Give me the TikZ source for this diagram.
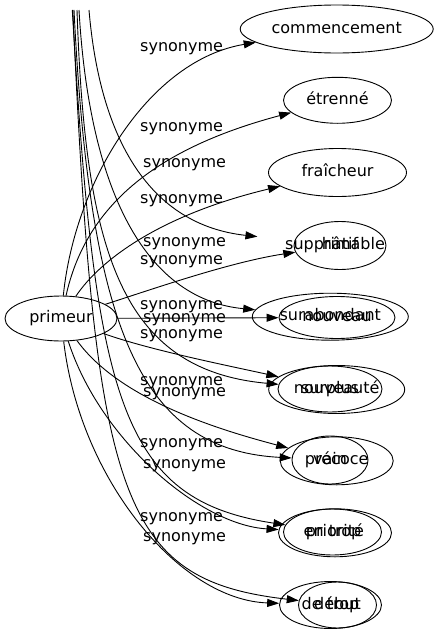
\documentclass[tikz,border=0pt]{standalone}
\usepackage{fontspec}
\setmainfont{DejaVu Sans}
\usetikzlibrary{shapes.geometric,arrows.meta}
\begin{document}
\begin{tikzpicture}[x=1pt,y=-1pt,
  word/.style={ellipse,draw,line width=0.9pt,inner sep=0pt,text height=11pt,text depth=3pt,font=\fontsize{16}{19}\selectfont},
  ghost/.style={ellipse,draw=none,inner sep=0pt,text height=11pt,text depth=3pt,font=\fontsize{16}{19}\selectfont},
  edge/.style={line width=0.9pt,-{Triangle[length=12pt,width=8pt]}},
  lab/.style={anchor=west,inner sep=0pt,text height=11pt,text depth=3pt,font=\fontsize{16}{19}\selectfont}]
\useasboundingbox (0,0) rectangle (439,635);
% nodes
\node[word,minimum width=112pt,minimum height=45pt] (primeur) at (61,318.5) {primeur};
\node[word,minimum width=193pt,minimum height=48pt] (commencement) at (336.7,29) {commencement};
\node[word,minimum width=108pt,minimum height=46pt] (etrenne) at (337.5,100.3) {étrenné};
\node[word,minimum width=138pt,minimum height=48pt] (fraicheur) at (337.5,172.5) {fraîcheur};
\node[ghost,minimum width=166pt,minimum height=46pt] (supprimable) at (335,245) {supprimable};
\node[word,minimum width=92pt,minimum height=48pt] (hatif) at (340,245.5) {hâtif};
\node[word,minimum width=156pt,minimum height=47pt] (surabondant) at (330.3,316.7) {surabondant};
\node[word,minimum width=116pt,minimum height=42pt] (nouveau) at (337,317.5) {nouveau};
\node[word,minimum width=136pt,minimum height=48pt] (nouveaute) at (336.7,389.5) {nouveauté};
\node[word,minimum width=104pt,minimum height=46pt] (surplus) at (330,389) {surplus};
\node[word,minimum width=113pt,minimum height=48pt] (precoce) at (336.7,460.8) {précoce};
\node[word,minimum width=76pt,minimum height=48pt] (vain) at (330,460) {vain};
\node[word,minimum width=113pt,minimum height=48pt] (priorite) at (335,532.8) {priorité};
\node[word,minimum width=98pt,minimum height=46pt] (entrop) at (332.5,532) {en trop};
\node[word,minimum width=102pt,minimum height=47pt] (detrop) at (330.5,605) {de trop};
\node[word,minimum width=78pt,minimum height=46pt] (debut) at (337.5,605) {début};
% free ends at the top
\coordinate (top1) at (89,10);
\coordinate (top2) at (79,10);
\coordinate (top3) at (77,10);
\coordinate (top4) at (74,10);
\coordinate (top5) at (72.3,10);
\coordinate (top6) at (72.8,10);
% edges from primeur
\draw[edge] (primeur) .. controls (75,180) and (150,60) .. (commencement);
\draw[edge] (primeur) .. controls (85,210) and (150,150) .. (etrenne);
\draw[edge] (primeur) .. controls (100,260) and (160,215) .. (fraicheur);
\draw[edge] (primeur) .. controls (150,290) and (230,262) .. (hatif);
\draw[edge] (primeur) -- (nouveau);
\draw[edge] (primeur) .. controls (150,350) and (225,365) .. (nouveaute);
\draw[edge] (primeur) .. controls (120,400) and (220,430) .. (precoce);
\draw[edge] (primeur) .. controls (100,440) and (200,525) .. (priorite);
\draw[edge] (primeur) .. controls (80,480) and (180,600) .. (detrop);
% edges from the top
\draw[edge] (top1) .. controls (100,140) and (150,225) .. (supprimable);
\draw[edge] (top2) .. controls (90,200) and (150,300) .. (surabondant);
\draw[edge] (top3) .. controls (85,250) and (120,370) .. (surplus);
\draw[edge] (top4) .. controls (90,330) and (140,450) .. (vain);
\draw[edge] (top5) .. controls (95,400) and (120,500) .. (entrop);
\draw[edge] (top6) .. controls (95,500) and (120,580) .. (debut);
% labels
\node[lab] (l1) at (140,47) {synonyme};
\node[lab] (l2) at (140,127) {synonyme};
\node[lab] (l3) at (143,163) {synonyme};
\node[lab] (l4) at (140,199) {synonyme};
\node[lab] (l5) at (143,242) {synonyme};
\node[lab] (l6) at (140,260) {synonyme};
\node[lab] (l7) at (140,305) {synonyme};
\node[lab] (l8) at (143,318) {synonyme};
\node[lab] (l9) at (140,334) {synonyme};
\node[lab] (l10) at (140,381) {synonyme};
\node[lab] (l11) at (143,392) {synonyme};
\node[lab] (l12) at (140,443) {synonyme};
\node[lab] (l13) at (143,464) {synonyme};
\node[lab] (l14) at (140,517) {synonyme};
\node[lab] (l15) at (143,537) {synonyme};
\end{tikzpicture}
\end{document}
